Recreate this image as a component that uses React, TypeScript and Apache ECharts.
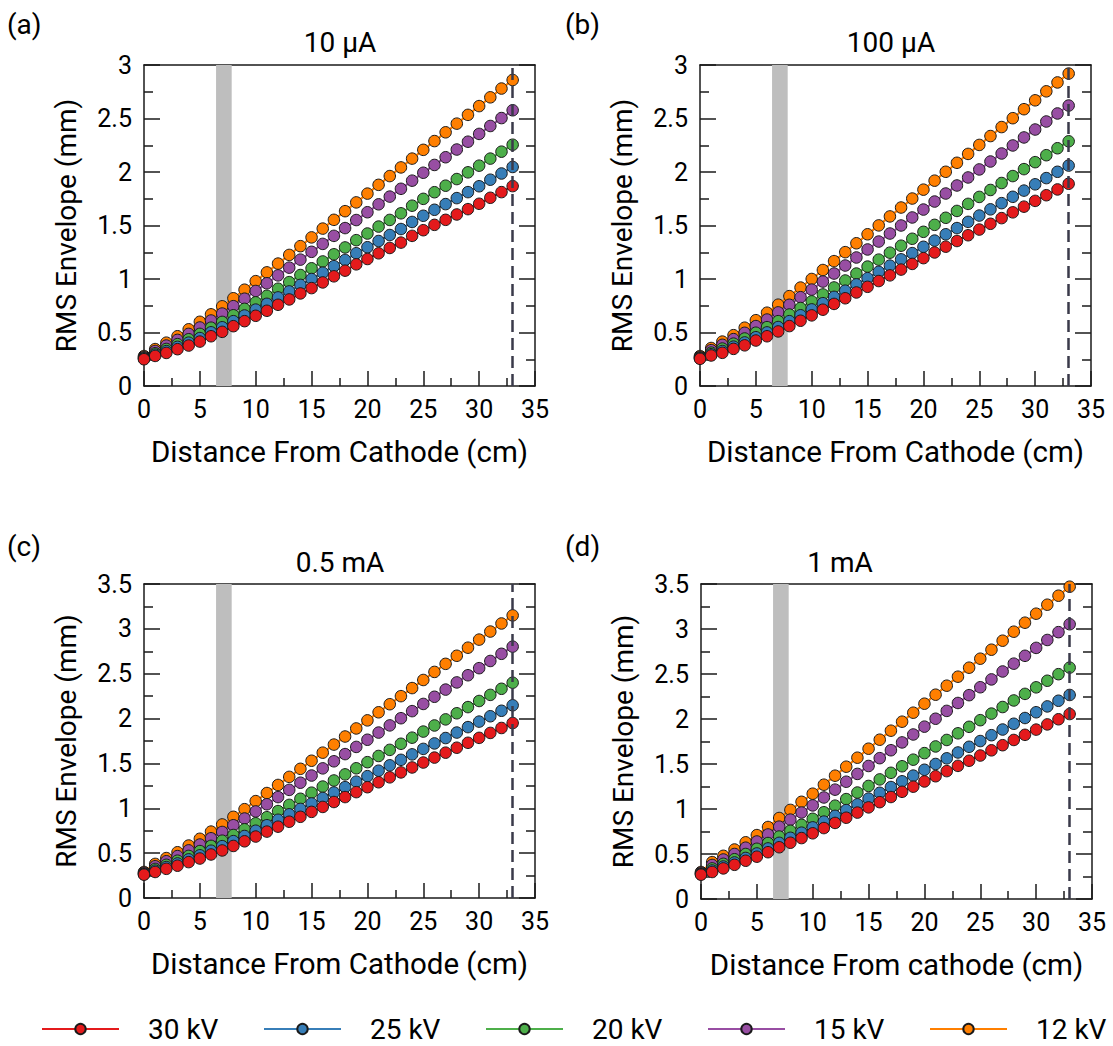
import React, { useEffect, useRef } from "react";
import * as echarts from "echarts";

const xs = [0, 1, 2, 3, 4, 5, 6, 7, 8, 9, 10, 11, 12, 13, 14, 15, 16, 17, 18, 19, 20, 21, 22, 23, 24, 25, 26, 27, 28, 29, 30, 31, 32, 33];

const seriesNames = ["30 kV", "25 kV", "20 kV", "15 kV", "12 kV"];
const seriesColors = ["#e41a1c", "#377eb8", "#4daf4a", "#984ea3", "#ff7f00"];

const panelTitles = ["10 µA", "100 µA", "0.5 mA", "1 mA"];
const panelLetters = ["(a)", "(b)", "(c)", "(d)"];
const xNames = ["Distance From Cathode (cm)", "Distance From Cathode (cm)", "Distance From Cathode (cm)", "Distance From cathode (cm)"];
const yMaxes = [3, 3, 3.5, 3.5];
const bandRange = [6.45, 7.85];
const cutoff = 33;

// Panel (a) 10 µA
const a30 = [0.25,0.281,0.309,0.344,0.378,0.415,0.465,0.506,0.559,0.606,0.656,0.703,0.759,0.809,0.865,0.915,0.968,1.025,1.078,1.137,1.187,1.24,1.29,1.34,1.403,1.456,1.506,1.553,1.603,1.653,1.703,1.759,1.812,1.868];
const a25 = [0.255,0.293,0.326,0.366,0.405,0.448,0.502,0.549,0.606,0.659,0.714,0.768,0.828,0.884,0.945,1.0,1.059,1.12,1.178,1.241,1.297,1.355,1.411,1.467,1.533,1.591,1.647,1.7,1.756,1.812,1.867,1.928,1.986,2.047];
const a20 = [0.262,0.306,0.346,0.391,0.437,0.487,0.545,0.599,0.661,0.721,0.782,0.843,0.909,0.971,1.037,1.1,1.164,1.231,1.295,1.363,1.425,1.49,1.552,1.614,1.685,1.749,1.811,1.872,1.934,1.997,2.059,2.125,2.19,2.255];
const a15 = [0.271,0.327,0.378,0.431,0.487,0.547,0.612,0.677,0.746,0.816,0.888,0.96,1.034,1.106,1.181,1.254,1.328,1.403,1.476,1.551,1.624,1.698,1.77,1.843,1.919,1.993,2.066,2.138,2.21,2.283,2.356,2.43,2.504,2.577];
const a12 = [0.28,0.345,0.405,0.465,0.53,0.6,0.67,0.745,0.82,0.9,0.98,1.062,1.144,1.225,1.307,1.389,1.471,1.553,1.634,1.716,1.798,1.88,1.962,2.043,2.125,2.207,2.289,2.371,2.452,2.534,2.616,2.698,2.78,2.86];

// Panel (b) 100 µA
const b30 = [0.254,0.285,0.31,0.347,0.38,0.425,0.465,0.51,0.56,0.61,0.66,0.713,0.767,0.82,0.874,0.927,0.981,1.034,1.088,1.141,1.195,1.248,1.302,1.355,1.409,1.462,1.516,1.569,1.623,1.676,1.73,1.783,1.837,1.89];
const b25 = [0.258,0.297,0.327,0.368,0.407,0.456,0.501,0.551,0.606,0.661,0.716,0.774,0.833,0.891,0.95,1.008,1.067,1.125,1.184,1.242,1.301,1.359,1.418,1.476,1.534,1.593,1.651,1.709,1.768,1.826,1.885,1.943,2.002,2.06];
const b20 = [0.264,0.312,0.35,0.396,0.444,0.498,0.55,0.606,0.668,0.729,0.791,0.856,0.921,0.986,1.051,1.116,1.181,1.246,1.311,1.376,1.441,1.506,1.572,1.636,1.702,1.767,1.832,1.897,1.962,2.027,2.092,2.157,2.222,2.287];
const b15 = [0.272,0.335,0.385,0.438,0.497,0.56,0.621,0.688,0.759,0.83,0.901,0.976,1.051,1.126,1.201,1.276,1.35,1.425,1.5,1.575,1.649,1.724,1.799,1.874,1.949,2.024,2.098,2.173,2.248,2.323,2.397,2.472,2.547,2.621];
const b12 = [0.28,0.355,0.415,0.475,0.545,0.615,0.685,0.76,0.84,0.92,1.0,1.084,1.167,1.251,1.334,1.418,1.501,1.585,1.668,1.752,1.835,1.919,2.002,2.086,2.169,2.253,2.336,2.42,2.503,2.587,2.67,2.754,2.837,2.92];

// Panel (c) 0.5 mA
const c30 = [0.26,0.29,0.325,0.36,0.4,0.44,0.485,0.53,0.58,0.632,0.685,0.74,0.795,0.85,0.905,0.96,1.015,1.07,1.125,1.18,1.235,1.29,1.345,1.4,1.455,1.51,1.565,1.62,1.675,1.73,1.785,1.84,1.895,1.95];
const c25 = [0.265,0.305,0.345,0.385,0.431,0.476,0.527,0.578,0.634,0.691,0.75,0.811,0.872,0.933,0.993,1.054,1.115,1.176,1.236,1.297,1.358,1.419,1.479,1.54,1.601,1.662,1.723,1.783,1.844,1.905,1.966,2.026,2.087,2.148];
const c20 = [0.271,0.324,0.37,0.416,0.469,0.523,0.581,0.639,0.702,0.766,0.833,0.901,0.969,1.038,1.106,1.174,1.242,1.31,1.378,1.446,1.514,1.583,1.651,1.719,1.787,1.855,1.923,1.991,2.059,2.128,2.196,2.264,2.332,2.4];
const c15 = [0.281,0.354,0.41,0.467,0.531,0.596,0.666,0.736,0.811,0.886,0.965,1.045,1.125,1.205,1.285,1.365,1.445,1.524,1.604,1.684,1.764,1.844,1.924,2.004,2.083,2.163,2.243,2.323,2.403,2.483,2.562,2.642,2.722,2.802];
const c12 = [0.29,0.38,0.445,0.51,0.585,0.66,0.74,0.82,0.905,0.99,1.08,1.17,1.26,1.35,1.44,1.53,1.62,1.71,1.8,1.89,1.98,2.07,2.16,2.25,2.34,2.43,2.52,2.61,2.7,2.79,2.88,2.97,3.06,3.15];

// Panel (d) 1 mA
const d30 = [0.27,0.3,0.34,0.38,0.425,0.47,0.52,0.575,0.625,0.677,0.73,0.788,0.845,0.903,0.96,1.018,1.076,1.133,1.191,1.248,1.306,1.364,1.421,1.479,1.536,1.594,1.652,1.709,1.767,1.824,1.882,1.94,1.997,2.055];
const d25 = [0.275,0.317,0.361,0.406,0.456,0.506,0.562,0.624,0.68,0.737,0.796,0.86,0.924,0.988,1.052,1.116,1.18,1.244,1.308,1.371,1.436,1.5,1.563,1.628,1.691,1.755,1.82,1.883,1.947,2.011,2.075,2.14,2.203,2.267];
const d20 = [0.281,0.34,0.391,0.442,0.5,0.558,0.622,0.694,0.758,0.824,0.891,0.964,1.037,1.11,1.183,1.256,1.329,1.402,1.475,1.548,1.621,1.695,1.767,1.841,1.913,1.987,2.06,2.133,2.206,2.279,2.352,2.425,2.498,2.571];
const d15 = [0.291,0.378,0.439,0.5,0.57,0.639,0.717,0.804,0.882,0.961,1.04,1.128,1.215,1.303,1.39,1.478,1.565,1.653,1.74,1.828,1.915,2.003,2.09,2.178,2.265,2.353,2.44,2.528,2.615,2.702,2.79,2.878,2.965,3.053];
const d12 = [0.3,0.41,0.48,0.55,0.63,0.71,0.8,0.9,0.99,1.08,1.17,1.27,1.37,1.47,1.57,1.67,1.77,1.87,1.97,2.07,2.17,2.27,2.37,2.47,2.57,2.67,2.77,2.87,2.97,3.07,3.17,3.27,3.37,3.47];

const panelData = [
  [a30, a25, a20, a15, a12],
  [b30, b25, b20, b15, b12],
  [c30, c25, c20, c15, c12],
  [d30, d25, d20, d15, d12],
];

const FONT = "Roboto";

export default function App() {
  const ref = useRef<HTMLDivElement>(null);
  useEffect(() => {
    if (!ref.current) return;
    const chart = echarts.init(ref.current, undefined, { renderer: "svg" });

    const grids = [
      { left: 144, top: 65, width: 391, height: 321 },
      { left: 700, top: 65, width: 391, height: 321 },
      { left: 144, top: 584, width: 391, height: 314 },
      { left: 701, top: 584, width: 391, height: 315 },
    ];
    const titlePos = [
      [340, 42],
      [891, 42],
      [340, 562],
      [840, 562],
    ];
    const letterPos = [
      [7, 24],
      [565, 24],
      [7, 546],
      [565, 546],
    ];

    const axisLine = { show: true, onZero: false, lineStyle: { color: "#1a1a1a", width: 1.5 } };
    const xAxes: any[] = [];
    const yAxes: any[] = [];
    const series: any[] = [];
    const graphics: any[] = [];

    grids.forEach((g, gi) => {
      xAxes.push({
        type: "value",
        gridIndex: gi,
        position: "bottom",
        min: 0,
        max: 35,
        interval: 5,
        name: xNames[gi],
        nameLocation: "middle",
        nameGap: 51,
        nameTextStyle: { fontSize: 29.5, fontFamily: FONT, color: "#000" },
        axisLine,
        axisTick: { show: true, inside: true, length: 15, lineStyle: { color: "#1a1a1a", width: 1.5 } },
        minorTick: { show: true, splitNumber: 2, length: 8, lineStyle: { color: "#1a1a1a", width: 1.5 } },
        axisLabel: { fontSize: 25, fontFamily: FONT, color: "#000", margin: 11 },
        splitLine: { show: false },
        minorSplitLine: { show: false },
      });
      xAxes.push({
        type: "value",
        gridIndex: gi,
        position: "top",
        min: 0,
        max: 35,
        interval: 5,
        axisLine,
        axisTick: { show: false },
        axisLabel: { show: false },
        splitLine: { show: false },
      });
      yAxes.push({
        type: "value",
        gridIndex: gi,
        position: "left",
        min: 0,
        max: yMaxes[gi],
        interval: 0.5,
        name: "RMS Envelope (mm)",
        nameLocation: "middle",
        nameGap: 64,
        nameTextStyle: { fontSize: 28, fontFamily: FONT, color: "#000" },
        axisLine,
        axisTick: { show: true, inside: true, length: 16, lineStyle: { color: "#1a1a1a", width: 1.5 } },
        minorTick: { show: true, splitNumber: 2, length: 9, lineStyle: { color: "#1a1a1a", width: 1.5 } },
        axisLabel: { fontSize: 25, fontFamily: FONT, color: "#000", margin: 12 },
        splitLine: { show: false },
      });
      yAxes.push({
        type: "value",
        gridIndex: gi,
        position: "right",
        min: 0,
        max: yMaxes[gi],
        interval: 0.5,
        axisLine,
        axisTick: { show: true, inside: true, length: 16, lineStyle: { color: "#1a1a1a", width: 1.5 } },
        minorTick: { show: true, splitNumber: 2, length: 9, lineStyle: { color: "#1a1a1a", width: 1.5 } },
        axisLabel: { show: false },
        splitLine: { show: false },
      });

      // helper series: gray band + dashed cut line
      series.push({
        type: "line",
        xAxisIndex: gi * 2,
        yAxisIndex: gi * 2,
        data: [],
        silent: true,
        z: 1,
        markArea: {
          silent: true,
          itemStyle: { color: "#bebebe" },
          label: { show: false },
          data: [[{ xAxis: bandRange[0] }, { xAxis: bandRange[1] }]],
        },
        markLine: {
          silent: true,
          symbol: "none",
          label: { show: false },
          lineStyle: { color: "#3a3a4a", width: 2.5, type: [12, 6] },
          data: [{ xAxis: cutoff }],
        },
      });

      for (let si = seriesNames.length - 1; si >= 0; si--) {
        const vals = panelData[gi][si];
        series.push({
          type: "line",
          name: seriesNames[si],
          xAxisIndex: gi * 2,
          yAxisIndex: gi * 2,
          data: xs.map((x, i) => [x, vals[i]]),
          symbol: "circle",
          symbolSize: 11.5,
          showSymbol: true,
          z: 3,
          lineStyle: { color: seriesColors[si], width: 2.2 },
          itemStyle: { color: seriesColors[si], borderColor: "#1a1a1a", borderWidth: 1 },
        });
      }

      graphics.push({
        type: "text",
        x: titlePos[gi][0],
        y: titlePos[gi][1],
        style: { text: panelTitles[gi], fontSize: 28, fontFamily: FONT, fill: "#000", align: "center", verticalAlign: "middle" },
      });
      graphics.push({
        type: "text",
        x: letterPos[gi][0],
        y: letterPos[gi][1],
        style: { text: panelLetters[gi], fontSize: 28, fontFamily: FONT, fill: "#000", align: "left", verticalAlign: "middle" },
      });
    });

    const legends = seriesNames.map((n, i) => ({
      data: [n],
      left: 36 + 222 * i,
      top: 1010,
      itemWidth: 77,
      itemHeight: 13,
      selectedMode: false,
      textStyle: { fontSize: 28, fontFamily: FONT, color: "#000", padding: [0, 0, 0, 24] },
    }));

    chart.setOption({
      animation: false,
      backgroundColor: "#ffffff",
      grid: grids,
      xAxis: xAxes,
      yAxis: yAxes,
      series,
      legend: legends,
      graphic: graphics,
    });
    return () => chart.dispose();
  }, []);

  return (
    <div
      ref={ref}
      style={{ position: "absolute", left: 0, top: 0, width: 1113, height: 1046, background: "#fff" }}
    />
  );
}
